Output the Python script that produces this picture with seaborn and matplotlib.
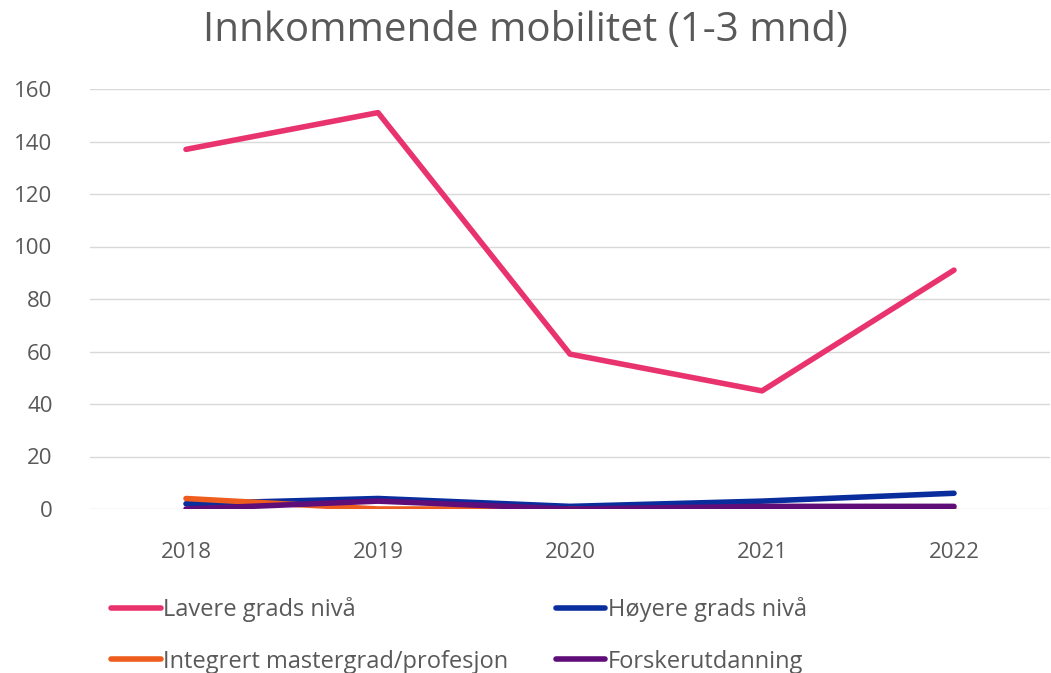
import pandas as pd
import matplotlib.pyplot as plt
import seaborn as sns

years = ["2018", "2019", "2020", "2021", "2022"]
lavere = [137, 151, 59, 45, 91]
hoyere = [2, 4, 1, 3, 6]
integrert = [4, 0, 0, 0, 0]
forsker = [0, 3, 0, 1, 1]

series = {
    "Lavere grads nivå": lavere,
    "Høyere grads nivå": hoyere,
    "Integrert mastergrad/profesjon": integrert,
    "Forskerutdanning": forsker,
}
colors = ["#E8336F", "#0A2D9E", "#EE5D1E", "#5E0D79"]

rows = []
for name, vals in series.items():
    for y, v in zip(years, vals):
        rows.append({"year": y, "value": v, "series": name})
df = pd.DataFrame(rows)

sns.set_theme(style="white")
plt.rcParams["font.family"] = ["Open Sans", "DejaVu Sans"]

fig = plt.figure(figsize=(10.51, 6.73), dpi=100)
ax = fig.add_axes([90 / 1051, 1 - 509 / 673, 960 / 1051, 420 / 673])

sns.lineplot(data=df, x="year", y="value", hue="series", palette=colors,
             linewidth=4, sort=False, ax=ax, legend=False,
             solid_capstyle="round")

ax.set_xlim(-0.5, 4.5)
ax.set_ylim(0, 160)
ax.set_yticks(range(0, 161, 20))
ax.grid(axis="y", color="#d9d9d9", linewidth=1)
ax.set_axisbelow(True)
for s in ax.spines.values():
    s.set_visible(False)
ax.set_xlabel("")
ax.set_ylabel("")
ax.tick_params(axis="both", length=0, labelsize=16, colors="#595959")
ax.tick_params(axis="x", pad=24)
ax.tick_params(axis="y", pad=27)

fig.text(0.5, 1 - 31 / 673, "Innkommende mobilitet (1-3 mnd)", ha="center",
         va="center", fontsize=29, color="#595959")

# legend, row-wise order: matplotlib fills columns first
names = list(series.keys())
order = [0, 2, 1, 3]
handles = [plt.Line2D([0], [0], color=colors[i], lw=4, solid_capstyle="round") for i in order]
fig.legend(handles, [names[i] for i in order], loc="upper left",
           bbox_to_anchor=(102 / 1051, 1 - 588 / 673), ncol=2, frameon=False,
           fontsize=17, labelcolor="#595959", handlelength=2.1, handletextpad=0.1,
           columnspacing=2.0, borderaxespad=0, labelspacing=1.15)

fig.savefig("out.png", dpi=100)
